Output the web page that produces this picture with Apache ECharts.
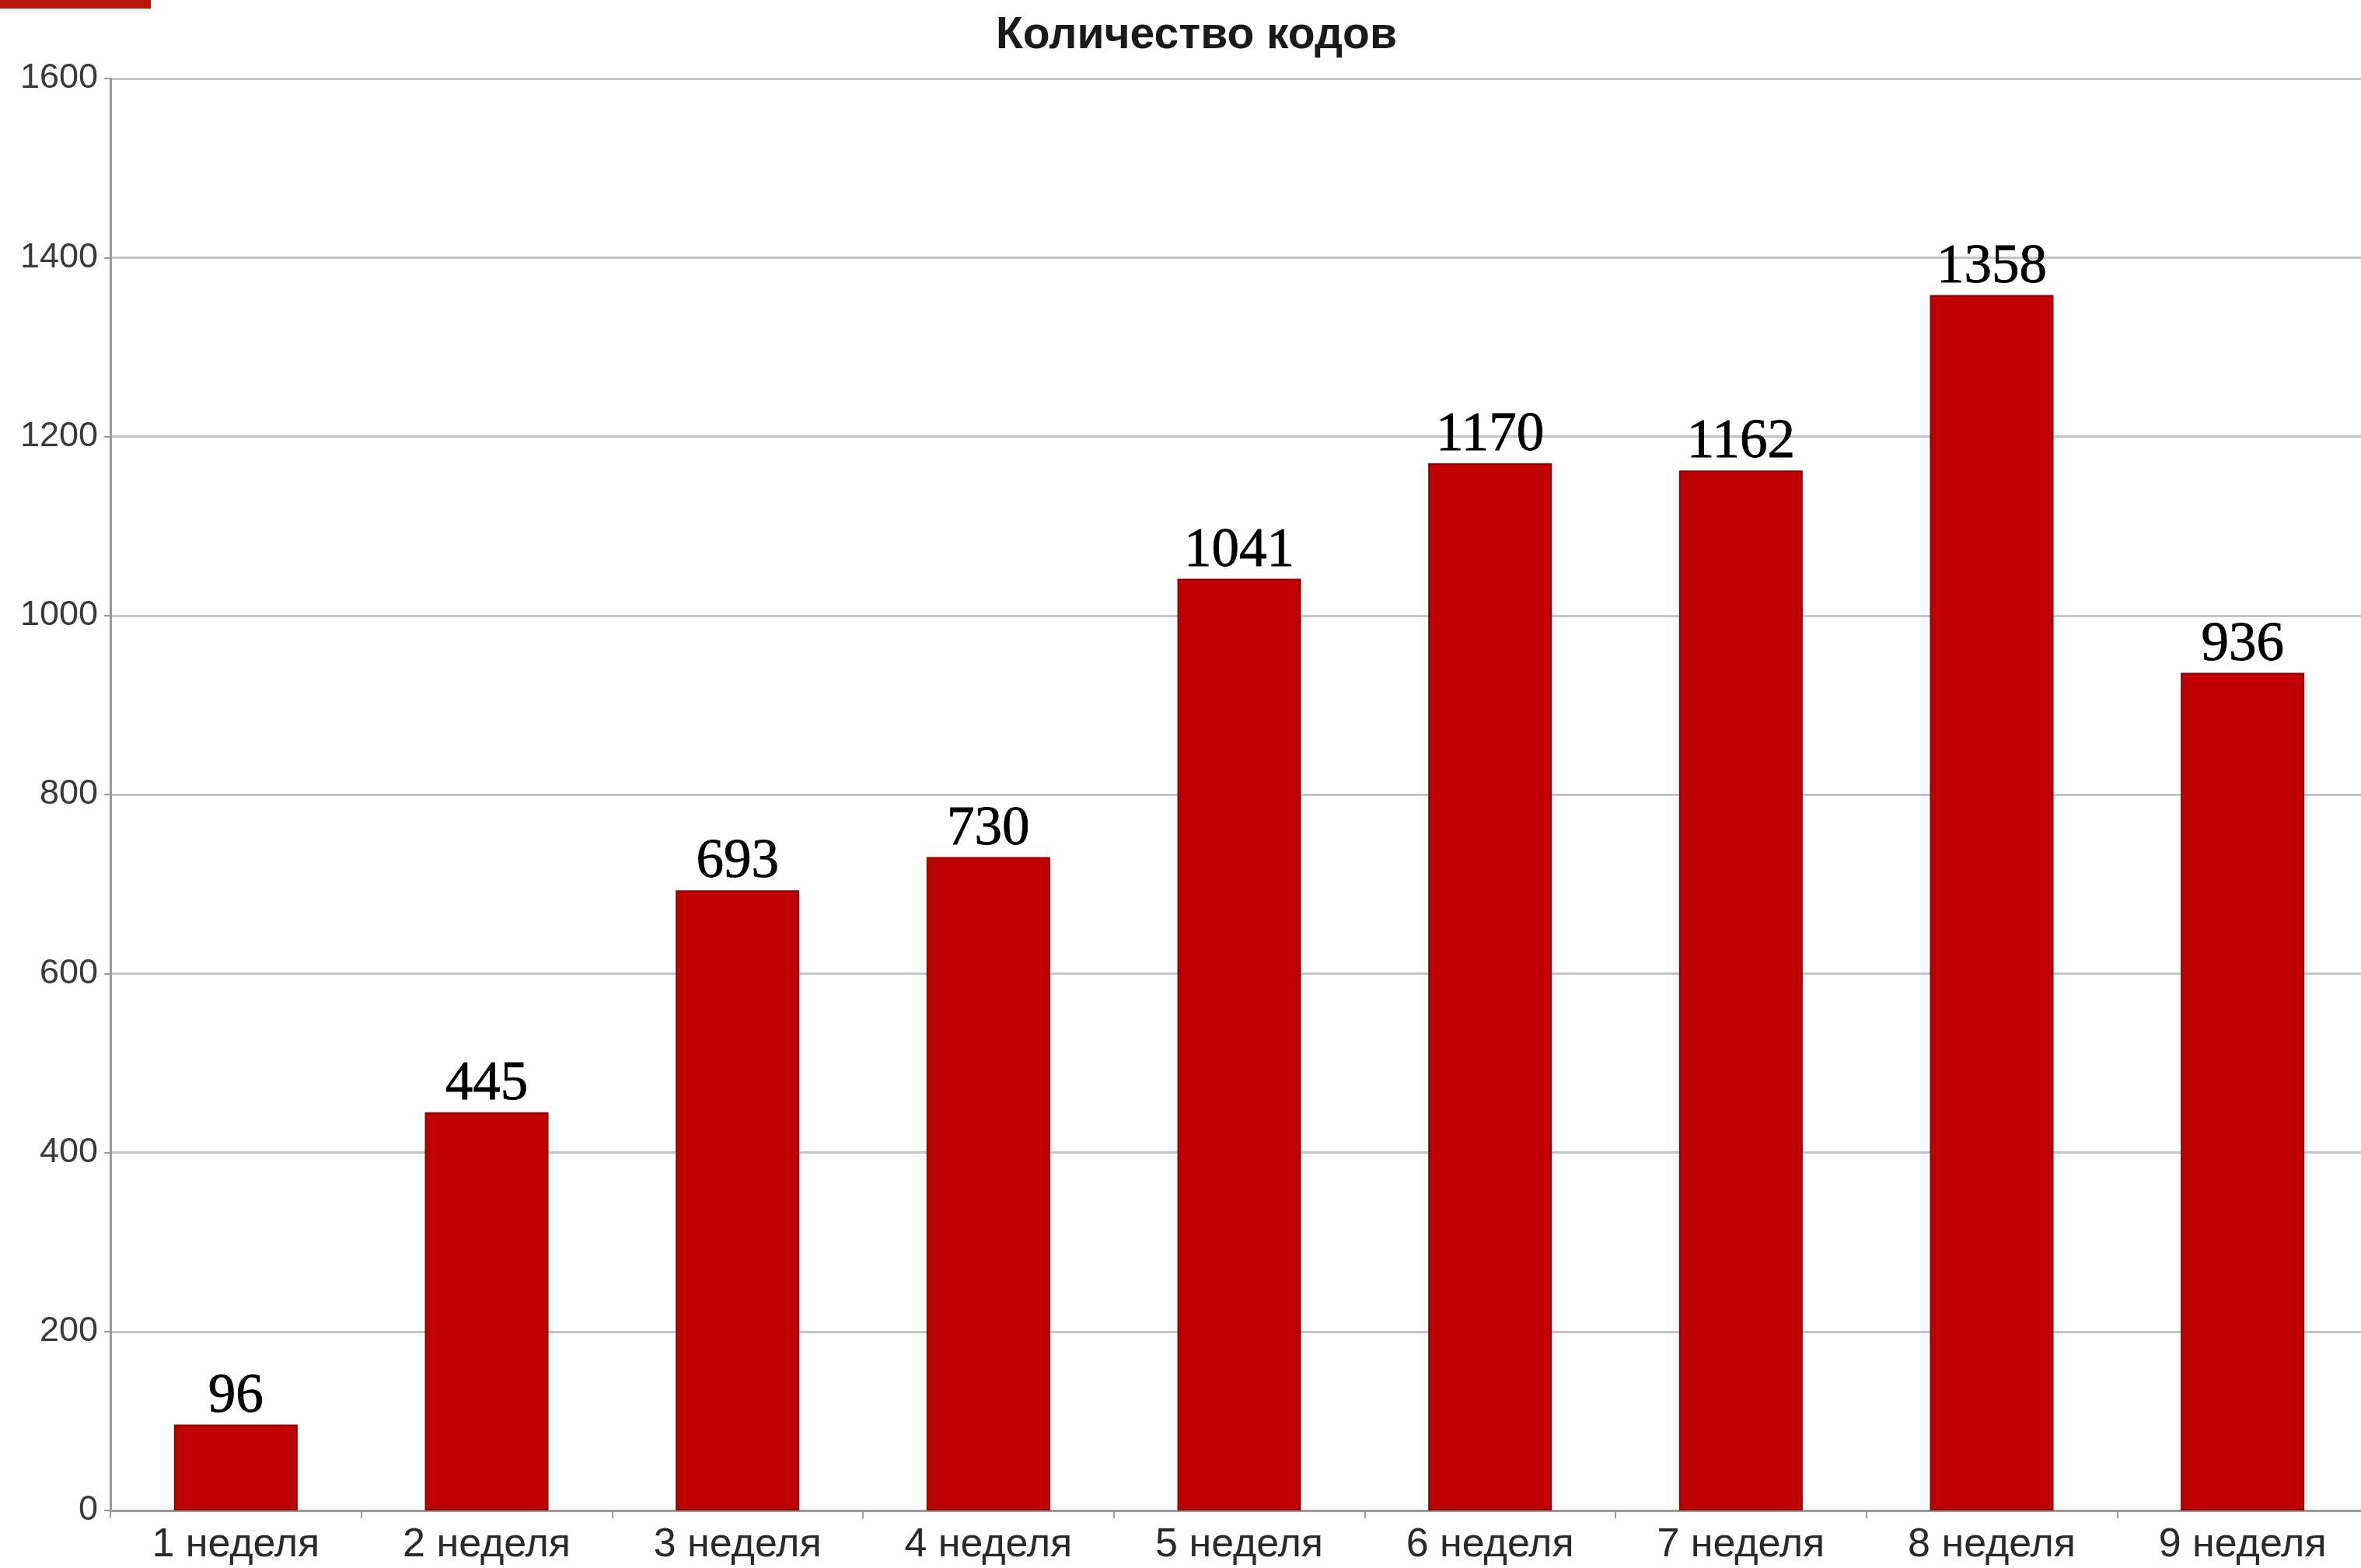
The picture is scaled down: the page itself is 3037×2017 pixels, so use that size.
<!DOCTYPE html>
<html>
<head>
<meta charset="utf-8">
<script src="https://cdn.jsdelivr.net/npm/echarts@6/dist/echarts.min.js"></script>
<style>
html,body{margin:0;padding:0;background:#fff;}
#chart{width:3037px;height:2017px;}
</style>
</head>
<body>
<div id="chart"></div>
<script>
const categories = ['1 неделя','2 неделя','3 неделя','4 неделя','5 неделя','6 неделя','7 неделя','8 неделя','9 неделя'];
const values = [96, 445, 693, 730, 1041, 1170, 1162, 1358, 936];
const yTicks = [0, 200, 400, 600, 800, 1000, 1200, 1400, 1600];
const titleText = 'Количество кодов';

const chart = echarts.init(document.getElementById('chart'), null, {renderer:'canvas'});
chart.setOption({
  animation: false,
  backgroundColor: '#ffffff',
  title: {
    text: titleText,
    left: 1534,
    textAlign: 'center',
    top: 13,
    textStyle: {fontFamily: 'Liberation Sans', fontSize: 57, fontWeight: 'bold', color: '#1a1a1a'}
  },
  graphic: [{
    type: 'rect', left: 0, top: 0, shape: {width: 194, height: 11},
    style: {fill: '#b8140a'}
  }],
  grid: {left: 142, top: 101, width: 2904, height: 1842, containLabel: false, outerBoundsMode: 'none'},
  xAxis: {
    type: 'category',
    data: categories,
    axisLine: {show: true, lineStyle: {color: '#9a9a9a', width: 3}},
    axisTick: {show: true, length: 10, lineStyle: {color: '#9a9a9a', width: 2}},
    axisLabel: {fontFamily: 'Liberation Sans', fontSize: 52, color: '#2a2a2a', margin: 19}
  },
  yAxis: {
    type: 'value',
    min: yTicks[0], max: yTicks[yTicks.length-1], interval: 200,
    axisLine: {show: true, lineStyle: {color: '#9a9a9a', width: 3}},
    axisTick: {show: true, length: 8, lineStyle: {color: '#9a9a9a', width: 2}},
    axisLabel: {fontFamily: 'Liberation Sans', fontSize: 45, color: '#3a3a3a', margin: 16,
      formatter: function (v) { return String(v); }},
    splitLine: {show: true, lineStyle: {color: '#c4c4c4', width: 3}}
  },
  series: [{
    type: 'bar',
    data: values,
    barWidth: 159,
    itemStyle: {color: '#c00000', borderColor: '#8e0000', borderWidth: 2},
    label: {
      show: true, position: 'top', distance: 0,
      fontFamily: 'Liberation Serif', fontSize: 71, color: '#000',
      textBorderColor: '#000', textBorderWidth: 0.8
    }
  }]
});
</script>
</body>
</html>
